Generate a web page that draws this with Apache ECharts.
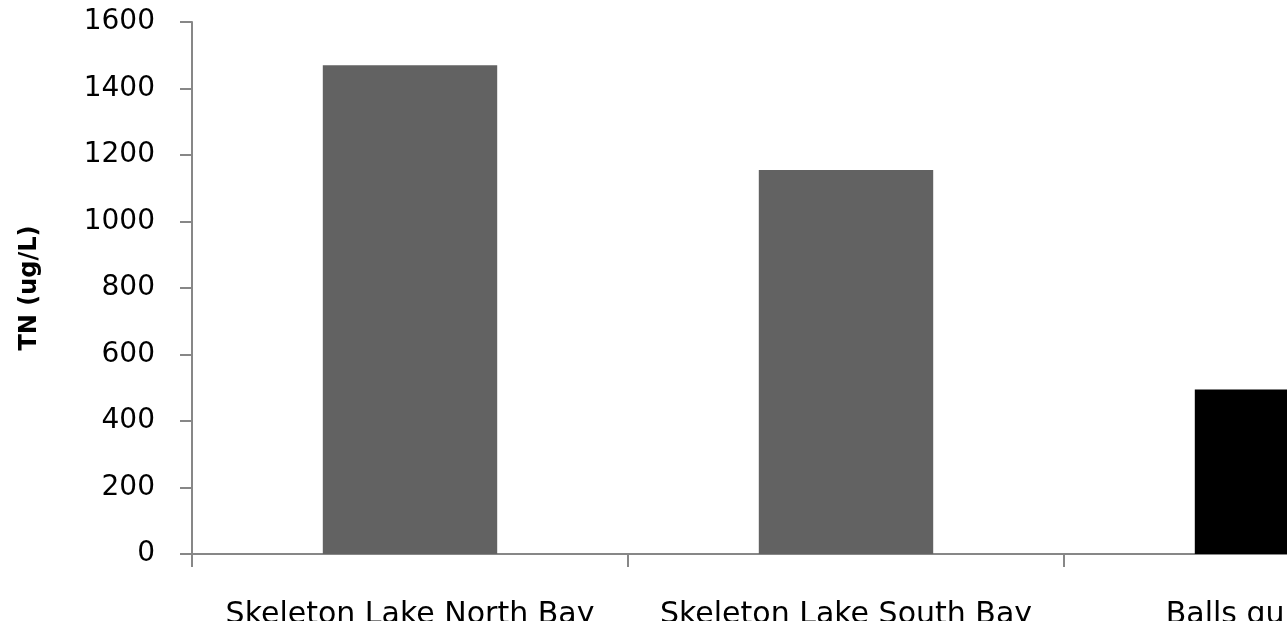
<!DOCTYPE html>
<html>
<head>
<meta charset="utf-8">
<script src="https://cdn.jsdelivr.net/npm/echarts@6/dist/echarts.min.js"></script>
<style>
  html, body { margin: 0; padding: 0; background: #ffffff; overflow: hidden; }
  #chart { width: 1560px; height: 621px; }
</style>
</head>
<body>
<div id="chart"></div>
<script>
// Total nitrogen by sampling site
const categories = ['Skeleton Lake North Bay', 'Skeleton Lake South Bay', 'Balls gully Lake'];
const tnValues = [1470, 1155, 495];
const barColors = ['#626262', '#626262', '#000000'];
const yTicks = { min: 0, max: 1600, interval: 200 };

const chart = echarts.init(document.getElementById('chart'));
const font = 'DejaVu Sans';

chart.setOption({
  backgroundColor: '#ffffff',
  animation: false,
  grid: { left: 192, right: 60, top: 22, bottom: 67, containLabel: false, outerBoundsMode: 'none' },
  xAxis: {
    type: 'category',
    data: categories,
    axisLine: { lineStyle: { color: '#878787', width: 2 } },
    axisTick: { show: true, length: 13, lineStyle: { color: '#878787', width: 2 } },
    axisLabel: { color: '#000000', fontFamily: font, fontSize: 30, margin: 46, interval: 0 }
  },
  yAxis: {
    type: 'value',
    min: yTicks.min,
    max: yTicks.max,
    interval: yTicks.interval,
    name: 'TN (ug/L)',
    nameLocation: 'middle',
    nameGap: 150,
    nameTextStyle: { color: '#000000', fontFamily: font, fontSize: 24, fontWeight: 'bold' },
    axisLine: { show: true, lineStyle: { color: '#878787', width: 2 } },
    axisTick: { show: true, length: 12, lineStyle: { color: '#878787', width: 2 } },
    axisLabel: {
      color: '#000000', fontFamily: font, fontSize: 28, margin: 37,
      formatter: (v) => String(v)
    },
    splitLine: { show: false }
  },
  series: [{
    type: 'bar',
    barWidth: '40%',
    data: tnValues.map((v, i) => ({ value: v, itemStyle: { color: barColors[i] } }))
  }]
});
</script>
</body>
</html>
